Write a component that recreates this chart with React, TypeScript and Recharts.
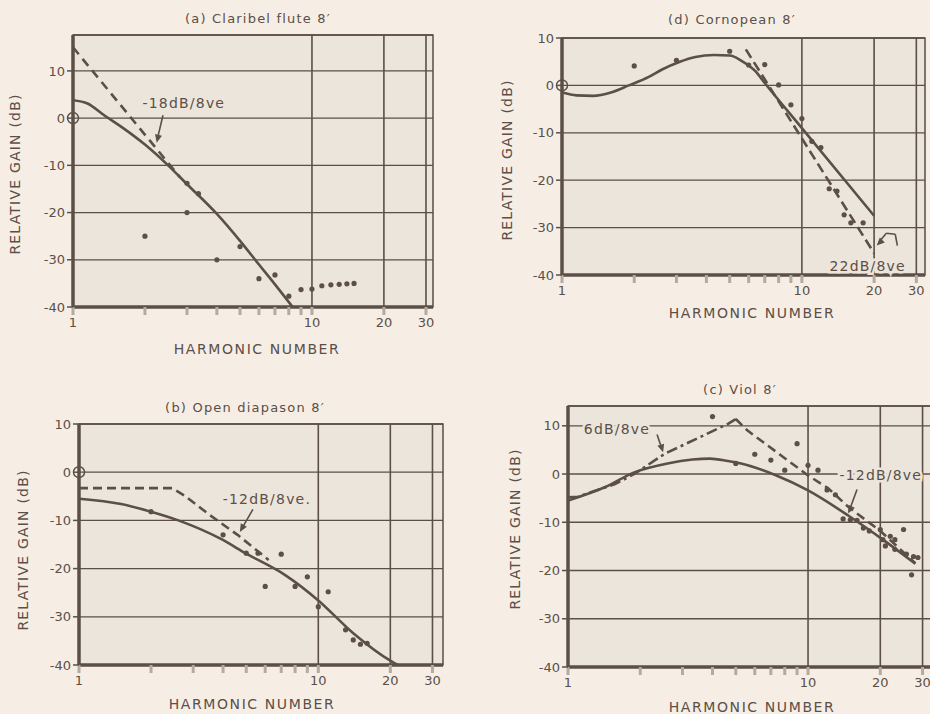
import React from 'react';
import {
  ComposedChart,
  Line,
  Scatter,
  XAxis,
  YAxis,
  CartesianGrid,
  ReferenceLine,
  ReferenceArea,
  ReferenceDot,
} from 'recharts';

const INK = '#5b4f47';
const PAGE = '#f6eee5';
const PLOT = '#ebe5dc';
const FONT = '"DejaVu Sans", sans-serif';

const xTicks = [1, 2, 3, 4, 5, 6, 7, 8, 9, 10, 20, 30];
const xLabels = [1, 10, 20, 30];
const yTicks = [-40, -30, -20, -10, 0, 10];
const vLines = [10, 20, 30];

type Pt = [number, number];
const pts = (a: Pt[]) => a.map(([x, y]) => ({ x, y }));

// (a) Claribel flute
const aSolid: Pt[] = [[1, 3.8], [1.15, 3.1], [1.35, 0.6], [1.6, -1.9], [2, -5.6], [2.5, -10], [3, -14], [4, -20.3], [5, -26], [6, -31], [7, -35.2], [8.3, -40]];
const aDashed: Pt[] = [[1, 15], [2.8, -12.5]];
const aDots: Pt[] = [[2, -25], [3, -13.8], [3, -20], [3.35, -16], [4, -30], [5, -27.2], [6, -34], [7, -33.2], [8, -37.7], [9, -36.3], [10, -36.2], [11, -35.5], [12, -35.3], [13, -35.2], [14, -35.1], [15, -35]];

// (d) Cornopean
const dSolid: Pt[] = [[1, -1.5], [1.15, -2.1], [1.35, -2.2], [1.6, -1.5], [1.9, 0], [2.3, 1.8], [2.6, 3.3], [3.1, 5], [3.6, 6], [4.3, 6.4], [5, 6.3], [5.6, 5.2], [6.4, 3], [7, 0.5], [10, -9], [20, -27.5]];
const dDashed: Pt[] = [[5.84, 7.6], [20, -35.4]];
const dDots: Pt[] = [[2, 4.1], [3, 5.3], [5, 7.2], [6, 4.3], [7, 4.4], [8, 0.1], [9, -4.1], [10, -7], [11, -11.8], [12, -13.1], [13, -21.8], [14, -22.3], [15, -27.3], [16, -29], [18, -29]];

// (b) Open diapason
const bSolid: Pt[] = [[1, -5.5], [1.5, -6.6], [2, -8.2], [2.6, -10], [3.9, -13.8], [5, -16.9], [7.3, -21.4], [10, -26.6], [14, -33.4], [20.3, -39.3], [21.5, -40]];
const bDashed: Pt[] = [[1, -3.3], [2.45, -3.3], [2.75, -4.8], [3.5, -8.8], [4.6, -13], [6.2, -18.2]];
const bDots: Pt[] = [[2, -8.2], [4, -13], [5, -16.8], [5.6, -16.8], [6, -23.7], [7, -17], [8, -23.7], [9, -21.7], [10, -27.9], [11, -24.8], [13, -32.7], [14, -34.8], [15, -35.7], [16, -35.5]];

// (c) Viol
const cSolid: Pt[] = [[1, -5.5], [1.43, -2.7], [1.9, 0.4], [2.6, 2.2], [3.3, 3], [3.9, 3.2], [4.64, 2.7], [5.26, 2.2], [7.3, -0.2], [10, -3.4], [14.7, -8.6], [20.5, -13.6], [28, -18.6]];
const cDashDot: Pt[] = [[1, -4.8], [1.1, -4.7], [1.57, -2.1], [1.9, 0.1], [2.53, 4.2], [4.64, 10.4], [5, 11.4]];
const cDashed: Pt[] = [[5, 11.4], [5.6, 9], [7.7, 3.9], [10, -0.3], [12.1, -2.9], [14.7, -6.8], [20, -11.8], [28, -18.5]];
const cDots: Pt[] = [[4, 11.9], [5, 2.2], [6, 4.1], [7, 2.9], [8, 0.8], [9, 6.3], [10, 1.8], [11, 0.8], [12, -3.3], [13, -4.3], [14, -9.3], [15, -9.5], [16, -9.6], [17, -11.2], [18, -11.8], [20, -11.5], [20.5, -13.6], [21, -14.9], [22, -12.9], [23, -13.6], [23, -15.6], [25, -11.5], [25.7, -16.6], [27, -20.9], [27.5, -17.1], [28.7, -17.3]];

const Note = (props: any) => {
  const { viewBox, text } = props;
  const cx = viewBox.x + viewBox.width / 2;
  const cy = viewBox.y + viewBox.height / 2;
  return (
    <text
      x={cx}
      y={cy}
      textAnchor="middle"
      dominantBaseline="central"
      fill={INK}
      fontSize={14}
      letterSpacing={1.2}
      fontFamily={FONT}
      stroke={PLOT}
      strokeWidth={5}
      paintOrder="stroke"
    >
      {text}
    </text>
  );
};

const Head = (props: any) => {
  const { cx, cy, angle } = props;
  return (
    <path
      d="M0,0 L-8,-3.5 L-8,3.5 Z"
      fill={INK}
      transform={`translate(${cx},${cy}) rotate(${angle})`}
    />
  );
};

const dotShape = (p: any) => <circle cx={p.cx} cy={p.cy} r={2.6} fill={INK} />;

type Seg = { from: Pt; to: Pt };
type Series = { data: Pt[]; dash?: string; type?: 'monotone' | 'linear' };
type PanelSpec = {
  left: number;
  top: number;
  w: number;
  h: number;
  xMax: number;
  yMax: number;
  lines: Series[];
  dots: Pt[];
  notes: { at: Pt; text: string }[];
  arrows: Seg[];
  heads: { at: Pt; angle: number }[];
  origin?: Pt;
};

function Panel({ p }: { p: PanelSpec }) {
  const W = p.w + 60;
  const H = p.h + 50;
  const tick = { fill: INK, fontSize: 13, fontFamily: FONT };
  return (
    <div style={{ position: 'absolute', left: p.left - 50, top: p.top - 10, width: W, height: H }}>
      <ComposedChart width={W} height={H} margin={{ top: 10, right: 10, bottom: 10, left: 10 }}>
        <CartesianGrid vertical={false} stroke={INK} strokeWidth={1.3} fill={PLOT} fillOpacity={1} />
        <XAxis
          dataKey="x"
          type="number"
          scale="log"
          domain={[1, p.xMax]}
          allowDataOverflow
          ticks={xTicks}
          interval={0}
          tickFormatter={(v: number) => (xLabels.includes(v) ? String(v) : '')}
          height={30}
          tick={tick}
          tickSize={8}
          tickMargin={3}
          tickLine={{ stroke: '#b3aaa0', strokeWidth: 3 }}
          axisLine={{ stroke: INK, strokeWidth: 3.5 }}
        />
        <YAxis
          type="number"
          domain={[-40, p.yMax]}
          allowDataOverflow
          ticks={yTicks}
          interval={0}
          width={40}
          tick={tick}
          tickSize={6}
          tickMargin={2}
          tickLine={{ stroke: INK, strokeWidth: 1.5 }}
          axisLine={{ stroke: INK, strokeWidth: 3.5 }}
        />
        <ReferenceArea x1={1} x2={p.xMax} y1={-40} y2={p.yMax} fill="none" stroke={INK} strokeWidth={1.5} />
        {vLines.map((v) => (
          <ReferenceLine key={v} x={v} stroke={INK} strokeWidth={1.6} />
        ))}
        {p.lines.map((s, i) => (
          <Line
            key={i}
            data={pts(s.data)}
            dataKey="y"
            type={s.type || 'monotone'}
            stroke={INK}
            strokeWidth={2.6}
            strokeDasharray={s.dash}
            dot={false}
            activeDot={false}
            isAnimationActive={false}
          />
        ))}
        <Scatter data={pts(p.dots)} dataKey="y" shape={dotShape} isAnimationActive={false} />
        {p.arrows.map((a, i) => (
          <ReferenceLine
            key={'a' + i}
            segment={[{ x: a.from[0], y: a.from[1] }, { x: a.to[0], y: a.to[1] }]}
            stroke={INK}
            strokeWidth={1.6}
          />
        ))}
        {p.heads.map((hd, i) => (
          <ReferenceDot key={'h' + i} x={hd.at[0]} y={hd.at[1]} r={1} shape={(sp: any) => <Head {...sp} angle={hd.angle} />} />
        ))}
        {p.origin && (
          <ReferenceDot x={p.origin[0]} y={p.origin[1]} r={5.5} fill="none" stroke={INK} strokeWidth={1.5} />
        )}
        {p.notes.map((n, i) => (
          <ReferenceDot
            key={'n' + i}
            x={n.at[0]}
            y={n.at[1]}
            r={1}
            fill="none"
            stroke="none"
            label={<Note text={n.text} />}
          />
        ))}
      </ComposedChart>
    </div>
  );
}

const panels: PanelSpec[] = [
  {
    left: 73, top: 35, w: 360, h: 272, xMax: 32.1, yMax: 17.6,
    lines: [{ data: aSolid }, { data: aDashed, dash: '9 6', type: 'linear' }],
    dots: aDots,
    notes: [{ at: [2.91, 3.2], text: '-18dB/8ve' }],
    arrows: [{ from: [2.38, 0.6], to: [2.25, -4.6] }],
    heads: [{ at: [2.24, -5.2], angle: 103 }],
    origin: [1, 0],
  },
  {
    left: 562, top: 38, w: 363, h: 237, xMax: 32.6, yMax: 10,
    lines: [{ data: dSolid }, { data: dDashed, dash: '10 5', type: 'linear' }],
    dots: dDots,
    notes: [{ at: [18.8, -38], text: '22dB/8ve' }],
    arrows: [
      { from: [25, -33.8], to: [24.5, -31.4] },
      { from: [24.5, -31.4], to: [22.5, -31.2] },
      { from: [22.5, -31.2], to: [21, -33] },
    ],
    heads: [{ at: [20.5, -33.8], angle: 135 }],
    origin: [1, 0],
  },
  {
    left: 79, top: 424, w: 364, h: 241, xMax: 33.2, yMax: 10,
    lines: [{ data: bSolid }, { data: bDashed, dash: '9 5', type: 'linear' }],
    dots: bDots,
    notes: [{ at: [6.1, -5.6], text: '-12dB/8ve.' }],
    arrows: [{ from: [5.33, -7.7], to: [4.75, -12] }],
    heads: [{ at: [4.7, -12.4], angle: 120 }],
    origin: [1, 0],
  },
  {
    left: 568, top: 406, w: 367, h: 261, xMax: 33.8, yMax: 14.1,
    lines: [
      { data: cSolid },
      { data: cDashDot, dash: '11 4 3 4', type: 'linear' },
      { data: cDashed, dash: '9 5', type: 'linear' },
    ],
    dots: cDots,
    notes: [
      { at: [1.6, 9.3], text: '6dB/8ve' },
      { at: [20.1, -0.2], text: '-12dB/8ve' },
    ],
    arrows: [
      { from: [2.35, 8.2], to: [2.47, 5] },
      { from: [16, -3.2], to: [14.8, -7.8] },
    ],
    heads: [
      { at: [2.49, 4.5], angle: 73 },
      { at: [14.7, -8.2], angle: 115 },
    ],
  },
];

const titles = [
  { text: '(a) Claribel flute 8′', x: 258, y: 18 },
  { text: '(d) Cornopean 8′', x: 732, y: 19 },
  { text: '(b) Open diapason 8′', x: 245, y: 407 },
  { text: '(c) Viol 8′', x: 740, y: 389 },
];
const xTitles = [
  { x: 257, y: 349 },
  { x: 752, y: 313 },
  { x: 252, y: 704 },
  { x: 752, y: 707 },
];
const yTitles = [
  { x: 15, y: 174 },
  { x: 507, y: 160 },
  { x: 23, y: 550 },
  { x: 515, y: 529 },
];

const txt: React.CSSProperties = {
  position: 'absolute',
  transform: 'translate(-50%, -50%)',
  whiteSpace: 'nowrap',
  color: INK,
  fontFamily: FONT,
  lineHeight: 1,
};

export default function App() {
  return (
    <div
      style={{
        position: 'absolute',
        left: 0,
        top: 0,
        width: 930,
        height: 714,
        overflow: 'hidden',
        background: PAGE,
      }}
    >
      {panels.map((p, i) => (
        <Panel key={i} p={p} />
      ))}
      {titles.map((t, i) => (
        <div key={'t' + i} style={{ ...txt, left: t.x, top: t.y, fontSize: 13, letterSpacing: 1.2 }}>
          {t.text}
        </div>
      ))}
      {xTitles.map((t, i) => (
        <div key={'x' + i} style={{ ...txt, left: t.x, top: t.y, fontSize: 14, letterSpacing: 1.6 }}>
          HARMONIC NUMBER
        </div>
      ))}
      {yTitles.map((t, i) => (
        <div
          key={'y' + i}
          style={{
            ...txt,
            left: t.x,
            top: t.y,
            fontSize: 14,
            letterSpacing: 1.2,
            transform: 'translate(-50%, -50%) rotate(-90deg)',
          }}
        >
          RELATIVE GAIN (dB)
        </div>
      ))}
    </div>
  );
}
